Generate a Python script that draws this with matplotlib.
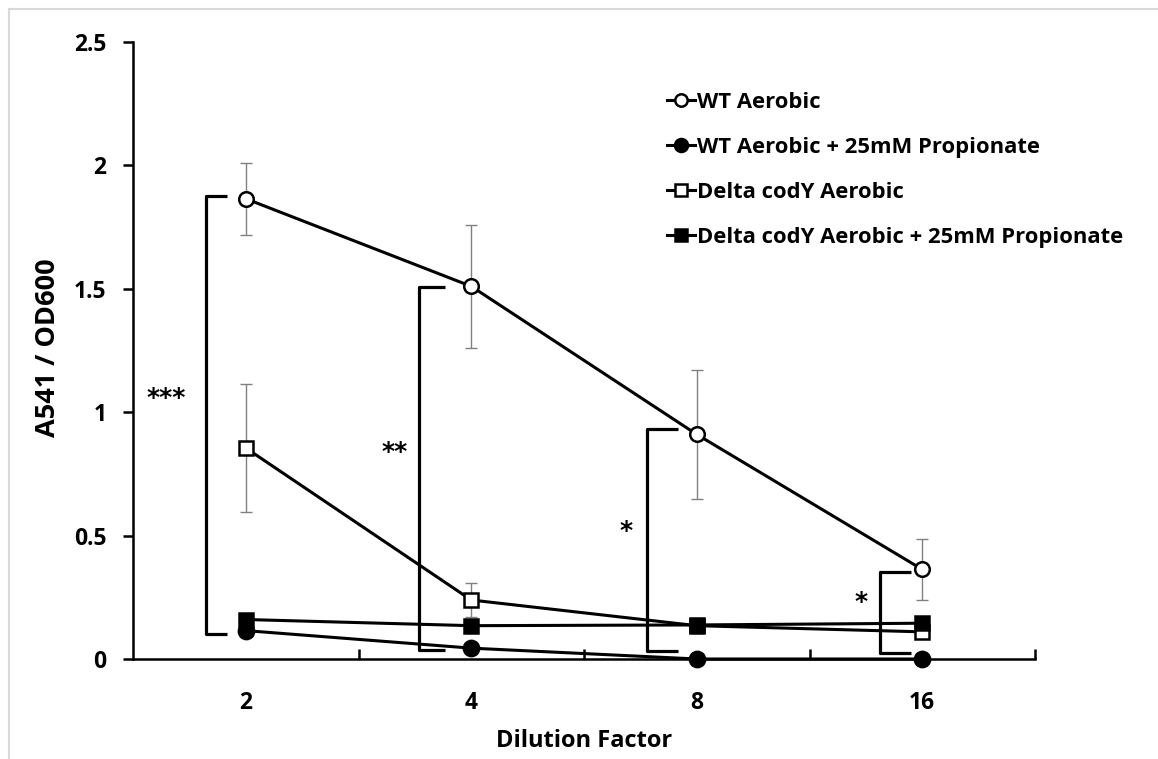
import matplotlib
matplotlib.use("Agg")
import matplotlib.pyplot as plt
from matplotlib.lines import Line2D

# ---- data ----
categories = ["2", "4", "8", "16"]
series_names = ["WT Aerobic",
                "WT Aerobic + 25mM Propionate",
                "Delta codY Aerobic",
                "Delta codY Aerobic + 25mM Propionate"]
wt_aerobic = [1.865, 1.51, 0.91, 0.363]
wt_aerobic_err = [0.145, 0.248, 0.26, 0.125]
wt_prop = [0.115, 0.044, 0.0, 0.0]
wt_prop_err = [0.0, 0.0, 0.0, 0.0]
dc_aerobic = [0.855, 0.239, 0.135, 0.11]
dc_aerobic_err = [0.26, 0.07, 0.03, 0.02]
dc_prop = [0.16, 0.135, 0.138, 0.145]
dc_prop_err = [0.0, 0.0, 0.0, 0.0]

yticks = [0, 0.5, 1, 1.5, 2, 2.5]
ytick_labels = ["0", "0.5", "1", "1.5", "2", "2.5"]
xlabel = "Dilution Factor"
ylabel = "A541 / OD600"

# significance brackets: (x of vertical, x of arm end, y top, y bottom, label, label x, label y)
brackets = [
    (-0.175, -0.083, 1.876, 0.10, "***", -0.353, 1.057),
    (0.768, 0.882, 1.508, 0.036, "**", 0.659, 0.84),
    (1.778, 1.918, 0.93, 0.034, "*", 1.687, 0.52),
    (2.812, 2.951, 0.354, 0.026, "*", 2.729, 0.23),
]

FONT = "Open Sans"
plt.rcParams["font.family"] = FONT
plt.rcParams["font.weight"] = "bold"

fig = plt.figure(figsize=(11.58, 7.59), dpi=100)
ax = fig.add_axes([133/1158, 1-659/759, (1035-133)/1158, (659-42)/759])

x = list(range(len(categories)))

styles = [
    dict(marker="o", mfc="white", ms=10.5),
    dict(marker="o", mfc="black", ms=11),
    dict(marker="s", mfc="white", ms=10),
    dict(marker="s", mfc="black", ms=10),
]
values = [wt_aerobic, wt_prop, dc_aerobic, dc_prop]
errs = [wt_aerobic_err, wt_prop_err, dc_aerobic_err, dc_prop_err]
handles = []
for name, vals, er, st in zip(series_names, values, errs, styles):
    ax.errorbar(x, vals, yerr=er, fmt="none", ecolor="#808080", elinewidth=1.0,
                capsize=4, capthick=1.0, zorder=2)
    h, = ax.plot(x, vals, color="black", lw=2.2, marker=st["marker"], mfc=st["mfc"],
                 mec="black", mew=1.8, ms=st["ms"], label=name, zorder=3, clip_on=False)
    handles.append(h)

# brackets
for xv, xa, yt, yb, lab, lx, ly in brackets:
    ax.plot([xa, xv, xv, xa], [yt, yt, yb, yb], color="black", lw=2.3,
            solid_joinstyle="round", solid_capstyle="butt", zorder=4, clip_on=False)
    ax.text(lx, ly, lab, ha="center", va="center", fontsize=18, fontweight="bold",
            family=["DejaVu Sans"])

ax.set_xlim(-0.5, 3.5)
ax.set_ylim(0, 2.5)
ax.set_yticks(yticks)
ax.set_yticklabels(ytick_labels)
ax.set_xticks(x)
ax.set_xticklabels(categories)
ax.set_xticks([0.5, 1.5, 2.5, 3.5], minor=True)
ax.tick_params(axis="x", which="major", length=0, pad=23, labelsize=16.5)
ax.tick_params(axis="x", which="minor", direction="in", length=7, width=1.8)
ax.tick_params(axis="y", which="major", direction="out", length=7, width=1.8,
               pad=12, labelsize=16.5)
for lab in ax.get_xticklabels() + ax.get_yticklabels():
    lab.set_fontweight("bold")

for s in ["top", "right"]:
    ax.spines[s].set_visible(False)
for s in ["left", "bottom"]:
    ax.spines[s].set_linewidth(1.8)
    ax.spines[s].set_color("black")

ax.set_xlabel(xlabel, fontsize=17, fontweight="bold", va="center")
ax.xaxis.set_label_coords(0.5, (659 - 741) / 617)
ax.set_ylabel(ylabel, fontsize=19.5, fontweight="bold", va="center")
ax.yaxis.set_label_coords((48 - 133) / 902, (659 - 348) / 617)

leg = ax.legend(handles=handles, loc="upper left", bbox_to_anchor=(647/1158, 1-72/759),
                bbox_transform=fig.transFigure, frameon=False,
                handlelength=1.3, handletextpad=0.1, labelspacing=1.1,
                prop={"family": FONT, "weight": "bold", "size": 15.8}, markerscale=0.85)

# light gray frame lines of the picture
fig.add_artist(Line2D([9/1158, 1.0], [1-9/759, 1-9/759], transform=fig.transFigure,
                      color="#d9d9d9", lw=1.5))
fig.add_artist(Line2D([9/1158, 9/1158], [0.0, 1-9/759], transform=fig.transFigure,
                      color="#d9d9d9", lw=1.5))

fig.savefig("out.png", dpi=100, facecolor="white")
